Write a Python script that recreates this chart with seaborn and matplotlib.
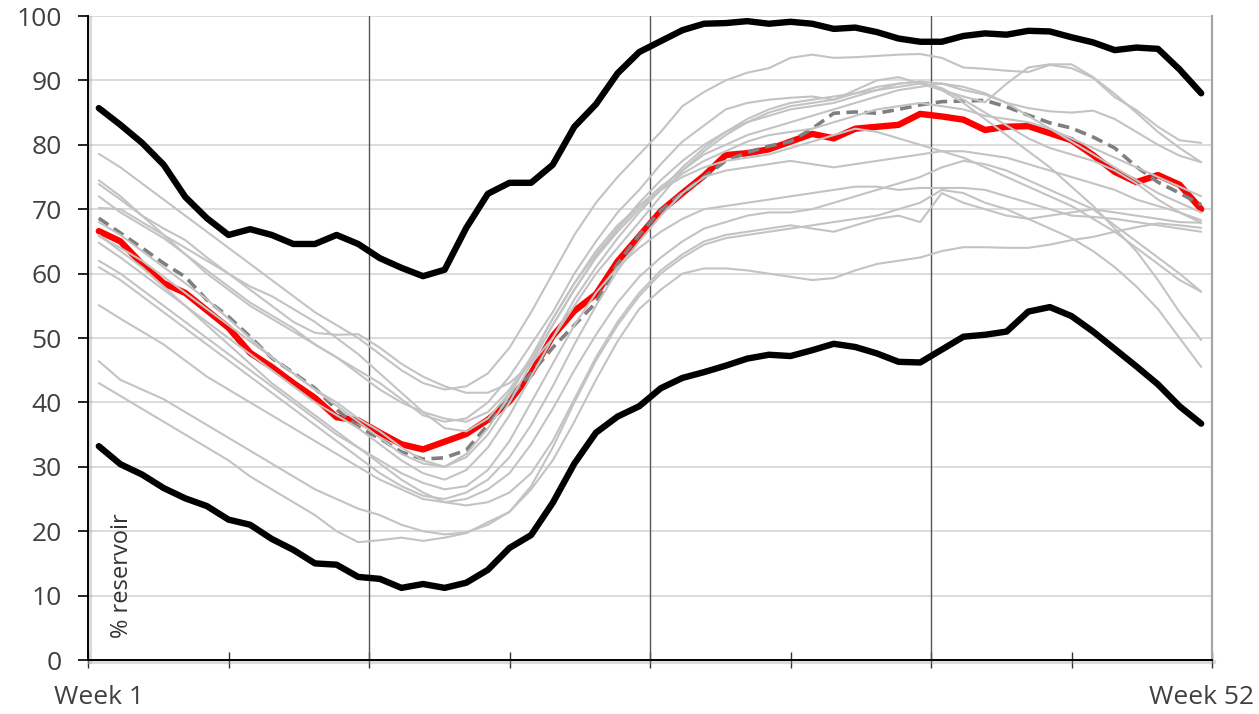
import numpy as np
import pandas as pd
import matplotlib
matplotlib.use("Agg")
import matplotlib.pyplot as plt
import matplotlib.patheffects as pe
from matplotlib.transforms import blended_transform_factory
import seaborn as sns

# ---------------------------------------------------------------- data
weeks = list(range(1, 53))

max_level = [85.7, 83.1, 80.3, 76.9, 71.9, 68.6, 66.0, 66.9, 66.0, 64.6, 64.6, 66.0, 64.6,
             62.4, 60.9, 59.6, 60.6, 67.1, 72.4, 74.1, 74.1, 76.9, 82.8, 86.3, 91.1, 94.4,
             96.1, 97.8, 98.8, 98.9, 99.2, 98.8, 99.1, 98.8, 98.0, 98.2, 97.5, 96.5, 96.0,
             96.0, 96.9, 97.3, 97.1, 97.7, 97.6, 96.7, 95.9, 94.7, 95.1, 94.9, 91.7, 88.0]

min_level = [33.2, 30.4, 28.8, 26.7, 25.1, 23.9, 21.8, 21.0, 18.8, 17.1, 15.0, 14.8, 12.9,
             12.6, 11.2, 11.8, 11.2, 12.0, 14.0, 17.4, 19.4, 24.4, 30.5, 35.3, 37.8, 39.4,
             42.2, 43.8, 44.7, 45.7, 46.8, 47.4, 47.2, 48.1, 49.1, 48.6, 47.6, 46.3, 46.2,
             48.2, 50.2, 50.5, 51.0, 54.1, 54.8, 53.4, 51.0, 48.3, 45.6, 42.8, 39.4, 36.7]

current_year = [66.6, 65.0, 61.5, 58.5, 57.0, 54.3, 51.6, 47.7, 45.5, 43.0, 40.7, 37.7, 37.2,
                35.3, 33.5, 32.7, 33.9, 35.1, 37.3, 40.2, 44.5, 50.3, 54.2, 56.8, 61.9, 65.8,
                69.7, 72.5, 75.2, 78.4, 78.7, 79.3, 80.5, 81.7, 81.0, 82.5, 82.8, 83.1, 84.8,
                84.4, 83.9, 82.3, 82.8, 82.9, 81.8, 80.7, 78.4, 75.8, 74.2, 75.3, 73.8, 70.0]

median_level = [68.6, 66.3, 64.0, 61.6, 59.5, 55.9, 53.3, 50.2, 46.9, 44.6, 42.2, 38.9, 36.2,
                34.4, 32.3, 31.2, 31.4, 32.6, 36.5, 40.8, 44.5, 48.5, 52.0, 55.5, 61.5, 66.0,
                69.8, 72.5, 75.0, 77.5, 78.8, 79.8, 80.5, 82.5, 84.9, 85.1, 84.9, 85.5, 86.2,
                86.7, 86.8, 86.9, 85.9, 84.6, 83.4, 82.6, 81.2, 79.5, 76.6, 74.2, 72.5, 70.7]

past_years = {
    "y01": [78.6, 76.5, 74.0, 71.5, 69.0, 66.5, 64.0, 61.5, 59.0, 56.5, 54.0, 52.0, 50.0,
            47.5, 45.0, 43.0, 42.0, 42.5, 44.5, 48.5, 54.0, 60.0, 66.0, 71.0, 75.0, 78.5,
            82.0, 86.0, 88.2, 90.0, 91.2, 91.9, 93.5, 94.0, 93.5, 93.6, 93.8, 94.0, 94.1,
            93.5, 92.0, 91.8, 91.5, 91.3, 92.4, 91.9, 90.4, 87.4, 85.4, 82.8, 80.7, 80.3],
    "y02": [74.5, 72.0, 69.0, 67.0, 65.2, 62.5, 60.0, 57.5, 55.0, 52.5, 50.8, 50.5, 50.6,
            48.5, 46.0, 44.0, 42.5, 41.5, 41.5, 43.0, 46.0, 50.0, 55.0, 60.0, 64.0, 68.0,
            72.0, 76.0, 79.0, 81.5, 83.5, 85.0, 86.0, 86.5, 87.0, 88.0, 89.0, 89.5, 89.8,
            89.5, 88.5, 87.8, 86.5, 85.7, 85.2, 85.0, 85.3, 84.0, 82.0, 80.0, 78.3, 77.3],
    "y03": [73.9, 71.5, 69.0, 66.0, 63.0, 60.0, 57.5, 55.0, 53.0, 51.0, 49.0, 47.0, 45.0,
            43.0, 40.5, 38.0, 37.0, 37.5, 40.0, 44.0, 49.0, 54.0, 60.0, 65.0, 69.5, 73.0,
            77.0, 80.5, 83.0, 85.5, 86.5, 87.0, 87.3, 87.5, 87.0, 88.5, 90.0, 90.5, 89.5,
            88.5, 87.5, 86.6, 89.5, 92.0, 92.5, 92.5, 90.5, 87.9, 85.0, 82.0, 79.5, 77.3],
    "y04": [70.2, 70.0, 68.0, 66.0, 64.0, 62.0, 60.0, 58.0, 56.5, 54.5, 52.5, 50.0, 47.5,
            44.5, 41.5, 38.5, 36.0, 35.5, 37.5, 41.5, 46.5, 52.0, 57.5, 62.5, 67.0, 71.0,
            74.5, 77.5, 80.0, 82.0, 83.5, 84.5, 85.5, 86.0, 86.5, 87.5, 88.5, 89.0, 89.5,
            88.8, 87.0, 85.0, 83.0, 81.0, 79.5, 78.5, 77.5, 76.0, 74.0, 71.5, 69.5, 67.9],
    "y05": [65.8, 64.0, 62.0, 59.5, 57.0, 54.5, 52.0, 49.5, 47.0, 44.5, 42.0, 40.0, 37.5,
            35.5, 33.0, 31.0, 30.0, 31.5, 35.0, 40.0, 46.0, 52.0, 57.5, 62.5, 66.5, 70.0,
            73.0, 75.5, 77.5, 79.0, 80.5, 81.5, 82.0, 82.5, 83.5, 84.5, 85.5, 86.0, 86.5,
            86.0, 85.5, 84.5, 84.0, 83.5, 82.5, 81.0, 79.5, 78.0, 76.5, 75.0, 73.5, 72.0],
    "y06": [64.8, 62.5, 60.0, 57.5, 55.0, 52.5, 50.0, 47.5, 45.0, 42.5, 40.0, 38.0, 36.0,
            33.5, 31.0, 29.0, 28.0, 29.5, 33.0, 38.0, 44.0, 50.0, 56.0, 61.0, 65.5, 69.5,
            73.0, 76.5, 79.5, 82.0, 84.0, 85.5, 86.5, 87.0, 87.5, 88.0, 88.5, 89.5, 89.8,
            88.5, 86.5, 84.0, 81.5, 79.0, 76.5, 73.5, 70.5, 67.0, 63.5, 59.0, 54.0, 49.7],
    "y07": [61.0, 59.0, 56.5, 54.0, 51.5, 49.0, 46.5, 44.0, 41.5, 39.0, 36.5, 34.0, 31.5,
            29.0, 27.0, 25.5, 25.0, 26.0, 28.0, 31.5, 36.5, 42.5, 49.0, 55.0, 60.5, 65.0,
            69.0, 72.5, 75.0, 76.0, 76.5, 77.0, 77.5, 77.0, 76.5, 77.0, 77.5, 78.0, 78.5,
            79.0, 79.0, 78.5, 78.0, 77.0, 76.0, 75.0, 74.0, 73.0, 71.5, 70.5, 69.5, 68.3],
    "y08": [55.1, 53.0, 51.0, 49.0, 46.5, 44.0, 42.0, 40.0, 38.0, 36.0, 34.0, 32.0, 30.0,
            28.0, 26.5, 25.0, 24.5, 25.0, 26.5, 29.0, 33.5, 39.0, 45.0, 50.5, 55.5, 59.5,
            62.5, 65.0, 67.0, 68.0, 69.0, 69.5, 69.5, 70.0, 71.0, 72.0, 73.0, 74.0, 75.0,
            76.5, 77.5, 77.0, 76.0, 74.5, 73.0, 71.5, 70.0, 67.5, 65.0, 62.5, 60.0, 57.2],
    "y09": [46.4, 43.5, 42.0, 40.5, 38.5, 36.5, 34.5, 32.5, 30.5, 28.5, 26.5, 25.0, 23.5,
            22.5, 21.0, 20.0, 19.5, 19.8, 21.0, 23.0, 27.0, 33.0, 40.0, 46.5, 52.0, 56.5,
            60.0, 62.5, 64.5, 65.5, 66.0, 66.5, 67.0, 67.5, 68.0, 68.5, 69.0, 70.0, 71.0,
            73.0, 72.5, 71.0, 70.0, 68.5, 67.0, 65.5, 63.5, 61.0, 58.0, 54.5, 50.0, 45.5],
    "y10": [43.0, 41.0, 39.0, 37.0, 35.0, 33.0, 31.0, 28.5, 26.5, 24.5, 22.5, 20.0, 18.3,
            18.6, 19.0, 18.5, 19.0, 19.7, 21.4, 23.0, 26.5, 31.0, 37.0, 43.5, 49.5, 54.5,
            57.5, 60.0, 60.8, 60.8, 60.5, 60.0, 59.5, 59.0, 59.3, 60.5, 61.5, 62.0, 62.5,
            63.5, 64.1, 64.1, 64.0, 64.0, 64.5, 65.2, 65.7, 66.5, 67.2, 67.8, 67.5, 67.1],
    "y11": [68.0, 66.0, 63.5, 61.0, 58.5, 56.0, 53.0, 50.0, 47.0, 44.5, 42.0, 39.5, 37.0,
            34.5, 32.0, 30.5, 30.0, 32.0, 36.0, 41.0, 47.0, 53.0, 58.5, 63.0, 67.0, 70.5,
            73.5, 76.0, 78.5, 80.0, 81.5, 82.5, 83.5, 84.5, 85.5, 86.5, 87.5, 88.5, 89.0,
            89.5, 89.0, 88.0, 86.5, 84.5, 82.5, 80.5, 78.5, 76.5, 74.5, 72.5, 71.0, 69.5],
    "y12": [66.0, 63.5, 61.0, 58.0, 55.0, 52.0, 49.0, 46.0, 43.0, 40.5, 38.0, 35.5, 33.0,
            30.5, 28.0, 26.0, 24.5, 24.0, 24.5, 26.0, 29.0, 34.0, 40.5, 47.0, 52.5, 57.0,
            60.5, 63.0, 65.0, 66.0, 66.5, 67.0, 67.5, 67.0, 66.5, 67.5, 68.5, 69.0, 68.0,
            72.5, 71.0, 70.0, 69.0, 68.5, 69.0, 69.5, 70.0, 69.5, 69.0, 68.5, 68.0, 67.9],
    "y13": [72.0, 69.5, 67.5, 65.5, 63.0, 60.5, 58.0, 55.5, 53.5, 51.5, 49.0, 47.0, 44.5,
            42.0, 40.0, 38.5, 37.5, 37.0, 38.5, 42.0, 47.0, 53.0, 58.5, 63.5, 67.5, 70.5,
            73.0, 75.0, 76.5, 77.5, 78.0, 78.5, 79.5, 80.5, 81.5, 82.5, 82.0, 81.0, 80.0,
            79.0, 78.0, 76.5, 75.0, 73.5, 72.0, 70.5, 68.5, 66.5, 64.0, 61.5, 59.0, 57.2],
    "y14": [62.0, 60.0, 57.5, 55.0, 52.5, 50.0, 47.5, 45.0, 42.5, 40.0, 37.5, 35.0, 33.0,
            31.0, 29.0, 27.5, 26.5, 27.0, 29.5, 34.0, 40.0, 46.0, 52.0, 57.0, 61.0, 64.0,
            66.5, 68.5, 70.0, 70.5, 71.0, 71.5, 72.0, 72.5, 73.0, 73.5, 73.5, 73.0, 73.3,
            73.3, 73.3, 73.0, 72.0, 71.0, 70.0, 69.0, 68.8, 68.5, 68.0, 67.5, 67.0, 66.5],
}

y_ticks = list(range(0, 101, 10))
x_end_labels = ["Week 1", "Week 52"]
y_label = "% reservoir"

# ---------------------------------------------------------------- style
sns.set_style("white")
plt.rcParams["font.family"] = ["Open Sans", "DejaVu Sans"]
TEXT = "#404040"

fig = plt.figure(figsize=(12.59, 7.14), dpi=100)
ax = fig.add_axes([88 / 1259, 1 - 660 / 714, (1212 - 88) / 1259, (660 - 16) / 714])

# history of individual years (long format)
hist = pd.DataFrame(
    [(name, w, v) for name, vals in past_years.items() for w, v in zip(weeks, vals)],
    columns=["year", "week", "pct"],
)

sns.lineplot(x=weeks, y=current_year, ax=ax, color="#ff0000", linewidth=4.6,
             solid_capstyle="round", solid_joinstyle="round", zorder=3)
sns.lineplot(x=weeks, y=median_level, ax=ax, color="#7f7f7f", linewidth=2.6,
             zorder=4).lines[-1].set_dashes([3.2, 1.8])
sns.lineplot(data=hist, x="week", y="pct", units="year", estimator=None, ax=ax,
             color="#c3c3c3", linewidth=1.5, zorder=5)
for series in (max_level, min_level):
    sns.lineplot(x=weeks, y=series, ax=ax, color="black", linewidth=4.6,
                 solid_capstyle="round", solid_joinstyle="round", zorder=6)

# ---------------------------------------------------------------- axes
ax.set_xlim(0.5, 52.5)
ax.set_ylim(0, 100)
ax.set_xlabel("")
ax.set_ylabel("")

ax.set_yticks(y_ticks)
ax.set_yticklabels([str(t) for t in y_ticks])
ax.set_xticks(np.arange(0.5, 52.6, 6.5))
ax.set_xticklabels([])
ax.tick_params(axis="y", which="major", left=True, direction="out", length=7,
               width=1.2, color="black", labelsize=19, labelcolor=TEXT, pad=12)
ax.tick_params(axis="x", which="major", bottom=True, direction="inout", length=11,
               width=1.0, color="#333333")

ax.yaxis.grid(True, color="#d6d6d6", linewidth=1.2, zorder=0)
ax.xaxis.grid(False)
for q in (13.5, 26.5, 39.5):
    ax.axvline(q, color="#555555", linewidth=1.0, zorder=1)

ax.spines["top"].set_visible(False)
ax.spines["right"].set_color("#a6a6a6")
ax.spines["right"].set_linewidth(1.6)
for side in ("left", "bottom"):
    ax.spines[side].set_color("black")
    ax.spines[side].set_linewidth(1.4)
    ax.spines[side].set_zorder(7)
    ax.spines[side].set_path_effects(
        [pe.SimpleLineShadow(offset=(1.5, -1.5), shadow_color="#9a9a9a", alpha=0.35,
                             linewidth=3), pe.Normal()])

# labels
trans = blended_transform_factory(ax.transData, ax.transAxes)
ax.text(1, -0.059, x_end_labels[0], transform=trans, ha="center", va="center",
        fontsize=19, color=TEXT)
ax.text(52, -0.059, x_end_labels[1], transform=trans, ha="center", va="center",
        fontsize=19, color=TEXT)
ax.text(2.07, 3.4, y_label, rotation=90, ha="center", va="bottom",
        fontsize=17, color="#333333", zorder=8)

fig.savefig("out.png", dpi=100)
